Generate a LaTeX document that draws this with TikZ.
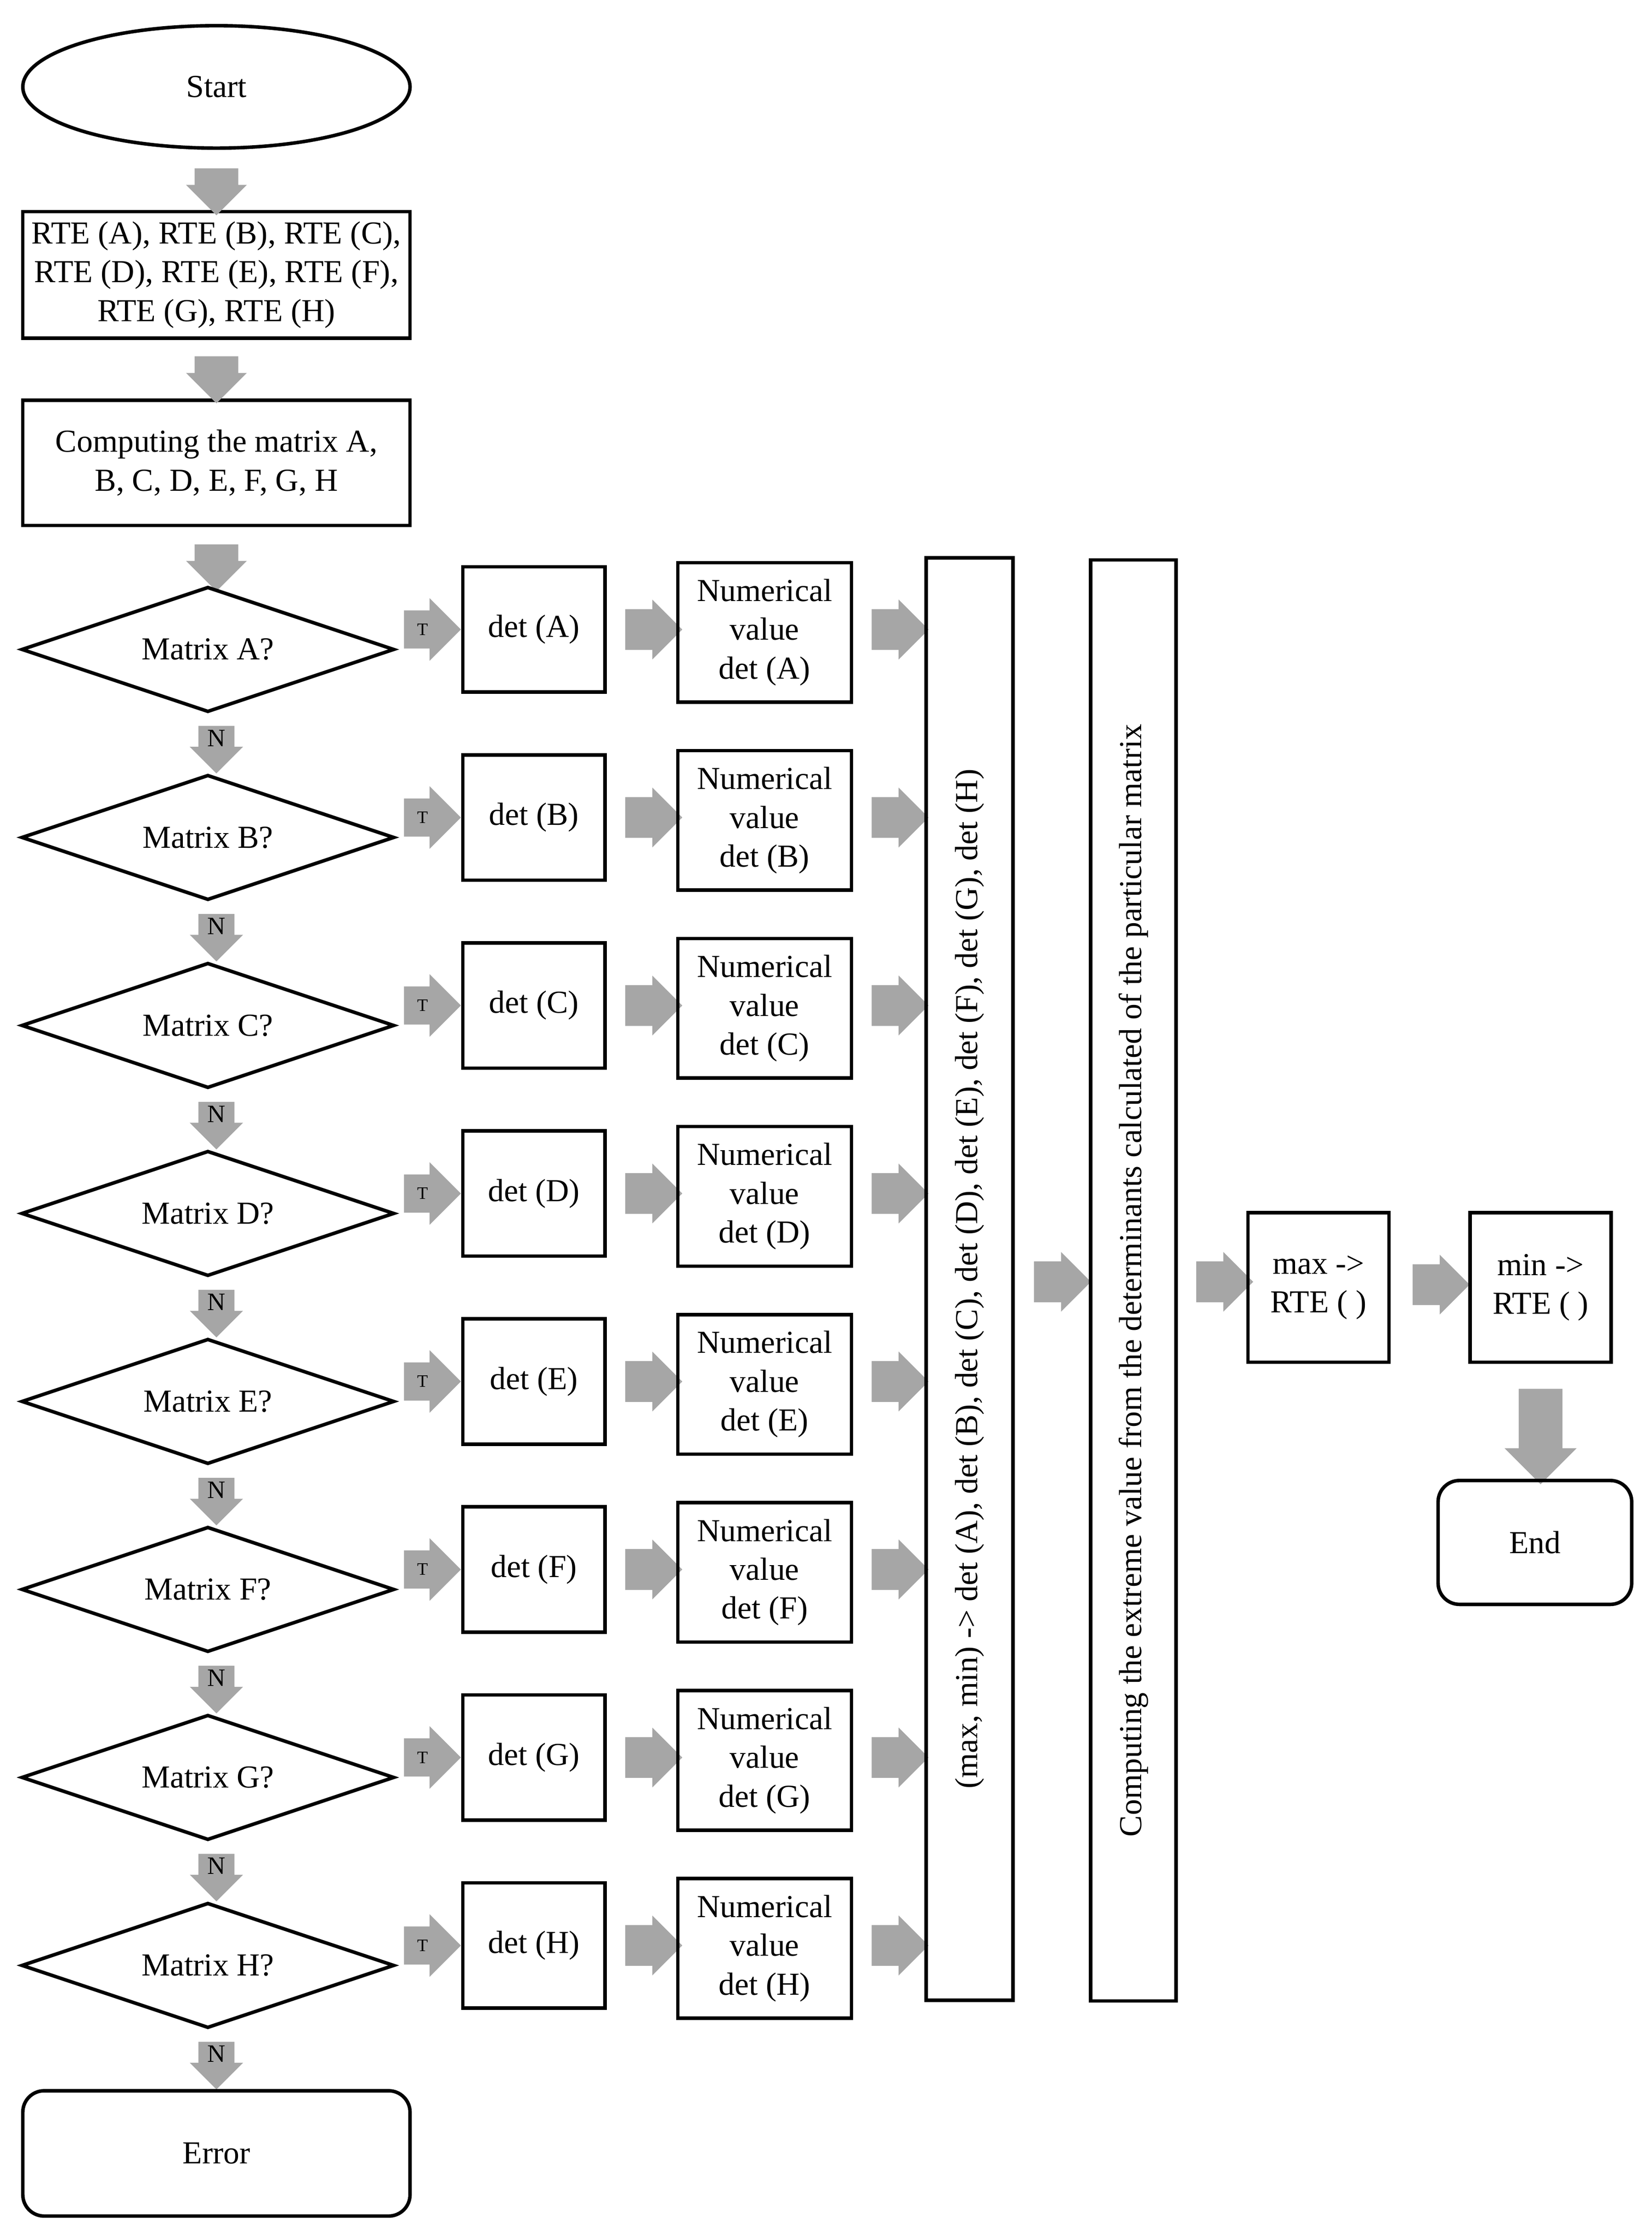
\documentclass[tikz,border=0pt]{standalone}
\usepackage{fontspec}
\setmainfont{Liberation Serif}
\usetikzlibrary{shapes.geometric,shapes.arrows,calc}
\definecolor{arrgray}{HTML}{A6A6A6}
\tikzset{
  box/.style={draw,line width=1.4pt,align=center,inner sep=2pt},
  round box/.style={box,rounded corners=0.3cm},
  decision/.style={draw,line width=1.4pt,diamond,aspect=3,inner sep=0pt,minimum width=5.24cm,minimum height=1.76cm},
  block/.style={single arrow,fill=arrgray,draw=none,inner sep=0pt,single arrow head extend=0.12cm,font=\scriptsize},
  downblock/.style={block,shape border rotate=270},
}
\begin{document}
\fontsize{12.8}{15.5}\selectfont
\begin{tikzpicture}[x=0.02cm,y=-0.02cm]
  \useasboundingbox (0,0) rectangle (1160,1570);
  % left column
  \node[box,ellipse,minimum width=5.44cm,minimum height=1.72cm] (start) at (152,61) {Start};
  \node[box,minimum width=5.44cm,minimum height=1.78cm] (rte) at (152,193) {RTE (A), RTE (B), RTE (C),\\RTE (D), RTE (E), RTE (F),\\RTE (G), RTE (H)};
  \node[box,minimum width=5.44cm,minimum height=1.76cm] (comp) at (152,325) {Computing the matrix A,\\B, C, D, E, F, G, H};
  \node[downblock,minimum height=0.66cm,minimum width=0.76cm,text width=0.6cm] (a1) at (152,127) {};
  \node[downblock,minimum height=0.66cm,minimum width=0.76cm,text width=0.6cm] (a2) at (152,259) {};
  \node[downblock,minimum height=0.66cm,minimum width=0.76cm,text width=0.6cm] (a3) at (152,391) {};
  % one row per matrix
  \foreach \m [count=\i from 0] in {A,B,C,D,E,F,G,H}{
    \pgfmathsetmacro{\yy}{456+132*\i}
    \node[decision] (d\m) at (146,\yy) {Matrix \m?};
    \node[block,minimum height=0.8cm,minimum width=0.88cm,text height=0.16cm,inner sep=0.1cm] (t\m) at (297,\yy-14) {T};
    \node[box,minimum width=2cm,minimum height=1.76cm] (det\m) at (375,\yy-14) {det (\m)};
    \node[block,minimum height=0.76cm,minimum width=0.84cm,inner sep=0.25cm] (b\m) at (452,\yy-14) {};
    \node[box,minimum width=2.44cm,minimum height=1.96cm] (num\m) at (537,\yy-12) {Numerical\\value\\det (\m)};
    \node[block,minimum height=0.8cm,minimum width=0.84cm,inner sep=0.25cm] (c\m) at (625,\yy-14) {};
    \node[downblock,minimum height=0.66cm,minimum width=0.74cm,text height=0.16cm,inner sep=0.12cm,font=\normalsize] (n\m) at (152,\yy+64) {N};
  }
  \node[round box,minimum width=5.44cm,minimum height=1.76cm] (err) at (152,1512) {Error};
  % right part
  \node[box,minimum width=1.22cm,minimum height=20.26cm] (mm) at (681,898) {};
  \node[rotate=90] (mmt) at (mm.center) {(max, min) -> det (A), det (B), det (C), det (D), det (E), det (F), det (G), det (H)};
  \node[block,minimum height=0.76cm,minimum width=0.84cm,inner sep=0.25cm] (e1) at (739,900) {};
  \node[box,minimum width=1.2cm,minimum height=20.24cm] (ext) at (796,899) {};
  \node[rotate=90] (extt) at (ext.center) {Computing the extreme value from the determinants calculated of the particular matrix};
  \node[block,minimum height=0.76cm,minimum width=0.84cm,inner sep=0.25cm] (e2) at (853,900) {};
  \node[box,minimum width=1.98cm,minimum height=2.1cm] (max) at (926,904) {max ->\\RTE ( )};
  \node[block,minimum height=0.78cm,minimum width=0.84cm,inner sep=0.25cm] (e3) at (1005,902) {};
  \node[box,minimum width=1.98cm,minimum height=2.1cm] (min) at (1082,904) {min ->\\RTE ( )};
  \node[downblock,minimum height=1.34cm,minimum width=1cm,inner sep=0.3cm,single arrow head extend=0.2cm] (e4) at (1082,1001) {};
  \node[round box,minimum width=2.72cm,minimum height=1.74cm] (end) at (1078,1083) {End};
\end{tikzpicture}
\end{document}
